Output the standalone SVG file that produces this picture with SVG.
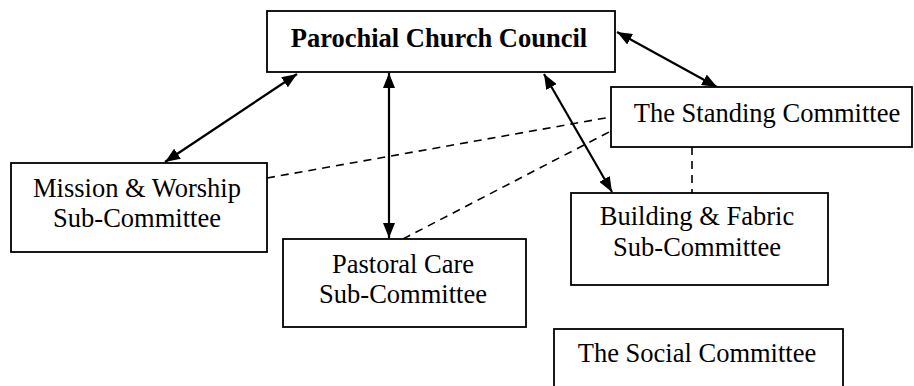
<svg xmlns="http://www.w3.org/2000/svg" width="914" height="386" viewBox="0 0 914 386">
<defs>
<marker id="ah" markerUnits="userSpaceOnUse" markerWidth="15" markerHeight="12" refX="15" refY="6" orient="auto-start-reverse" viewBox="0 0 15 12">
<path d="M0,0 L15,6 L0,12 z" fill="#000"/>
</marker>
<style>
.box{fill:#fff;stroke:#000;stroke-width:1.8}
.t{font-family:"Liberation Serif","Times New Roman",serif;font-size:26.5px;fill:#000;text-anchor:middle}
.b{font-weight:bold}
.arr{stroke:#000;stroke-width:2.2;fill:none;marker-start:url(#ah);marker-end:url(#ah)}
.dash{stroke:#000;stroke-width:1.6;fill:none;stroke-dasharray:8,6}
</style>
</defs>
<rect width="914" height="386" fill="#fff"/>
<g id="connectors">
<line class="dash" x1="267" y1="178" x2="611" y2="117"/>
<line class="dash" x1="403" y1="239" x2="611" y2="131"/>
<line class="dash" x1="692" y1="147" x2="692" y2="193"/>
<line class="arr" x1="297" y1="74" x2="165" y2="162"/>
<line class="arr" x1="389" y1="73" x2="389" y2="238"/>
<line class="arr" x1="544" y1="74" x2="612" y2="192"/>
<line class="arr" x1="617" y1="32" x2="717" y2="87"/>
</g>
<g id="pcc">
<rect class="box" x="267" y="11" width="348" height="61"/>
<text class="t b" x="439" y="47">Parochial Church Council</text>
</g>
<g id="standing">
<rect class="box" x="611" y="87" width="301" height="60"/>
<text class="t" x="767" y="122">The Standing Committee</text>
</g>
<g id="mission">
<rect class="box" x="11" y="163" width="256" height="89"/>
<text class="t" x="137" y="197">Mission &amp; Worship</text>
<text class="t" x="137" y="227">Sub-Committee</text>
</g>
<g id="pastoral">
<rect class="box" x="283" y="239" width="243" height="88"/>
<text class="t" x="403" y="273">Pastoral Care</text>
<text class="t" x="403" y="303">Sub-Committee</text>
</g>
<g id="building">
<rect class="box" x="571" y="193" width="257" height="92"/>
<text class="t" x="697" y="225">Building &amp; Fabric</text>
<text class="t" x="697" y="256">Sub-Committee</text>
</g>
<g id="social">
<rect class="box" x="554" y="329" width="289" height="70"/>
<text class="t" x="697" y="362">The Social Committee</text>
</g>
</svg>
